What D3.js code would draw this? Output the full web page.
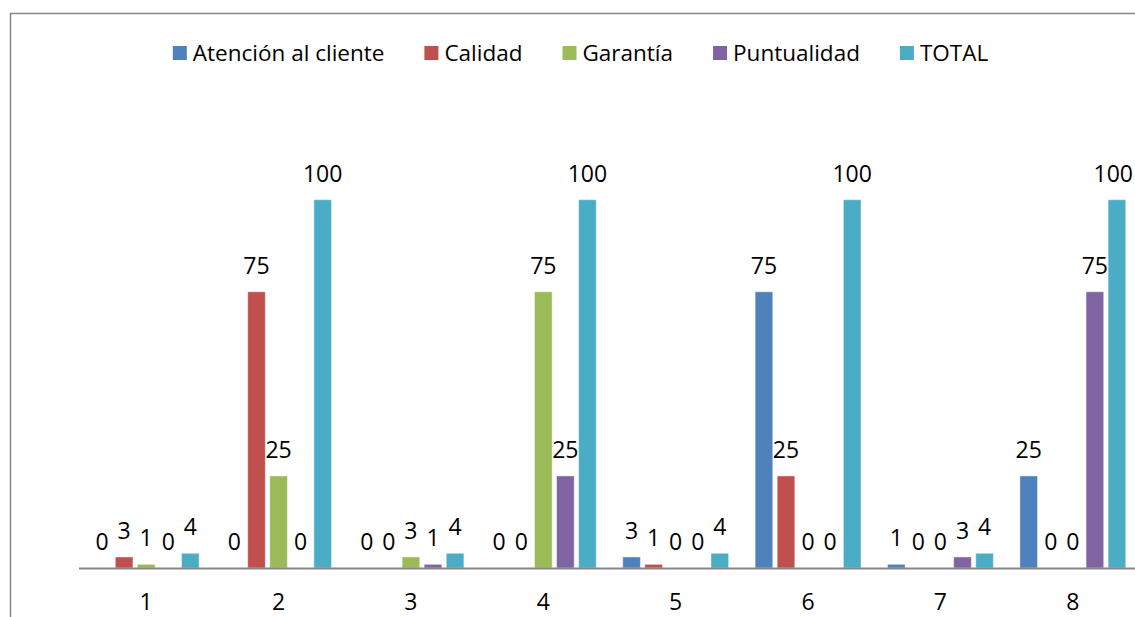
<!DOCTYPE html>
<html>
<head>
<meta charset="utf-8">
<script src="https://cdn.jsdelivr.net/npm/d3@7"></script>
<style>
  html, body { margin: 0; padding: 0; background: #ffffff; }
  svg { display: block; }
  text { font-family: "Open Sans", "Noto Sans", sans-serif; fill: #000; }
</style>
</head>
<body>
<svg id="chart" width="1135" height="617"></svg>
<script>
// Survey groups along the x axis
const categories = ["1", "2", "3", "4", "5", "6", "7", "8"];

// Series names (legend order = bar order inside each group)
const seriesNames = ["Atención al cliente", "Calidad", "Garantía", "Puntualidad", "TOTAL"];
const seriesColors = ["#4F81BD", "#C0504D", "#9BBB59", "#8064A2", "#4BACC6"];

// Values per series, one entry per category
const atencion    = [0, 0, 0, 0, 3, 75, 1, 25];
const calidad     = [3, 75, 0, 0, 1, 25, 0, 0];
const garantia    = [1, 25, 3, 75, 0, 0, 0, 0];
const puntualidad = [0, 0, 1, 25, 0, 0, 3, 75];
const total       = [4, 100, 4, 100, 4, 100, 4, 100];

const seriesValues = [atencion, calidad, garantia, puntualidad, total];

const svg = d3.select("#chart");
const W = 1135, H = 617;

const plot = { left: 80, right: 1139, top: 126, bottom: 568 };

// Outer chart frame (extends past the right and bottom edges of the page)
svg.append("rect")
  .attr("x", 10.5).attr("y", 13.5)
  .attr("width", W + 20).attr("height", H + 20)
  .attr("fill", "#ffffff")
  .attr("stroke", "#878787")
  .attr("stroke-width", 1.5);

const x0 = d3.scaleBand().domain(categories).range([plot.left, plot.right]).padding(0);
const groupW = x0.bandwidth() * (5 / 6);
const x1 = d3.scaleBand().domain(seriesNames)
  .range([(x0.bandwidth() - groupW) / 2, (x0.bandwidth() + groupW) / 2])
  .paddingInner(0.2).paddingOuter(0.1);
const y = d3.scaleLinear().domain([0, 120]).range([plot.bottom, plot.top]);

const rows = [];
categories.forEach((c, i) => {
  seriesNames.forEach((s, k) => {
    rows.push({ cat: c, series: s, k: k, value: seriesValues[k][i] });
  });
});

const g = svg.append("g");

// Bars
g.selectAll("rect.bar")
  .data(rows.filter(d => d.value > 0))
  .join("rect")
  .attr("class", "bar")
  .attr("x", d => x0(d.cat) + x1(d.series))
  .attr("y", d => y(d.value))
  .attr("width", x1.bandwidth())
  .attr("height", d => y(0) - y(d.value))
  .attr("fill", d => seriesColors[d.k])
  .attr("stroke", "rgba(255,255,255,0.45)")
  .attr("stroke-width", 1);

// Value labels above every bar (including zeros), kept inside the page
g.selectAll("text.val")
  .data(rows)
  .join("text")
  .attr("class", "val")
  .attr("x", d => x0(d.cat) + x1(d.series) + x1.bandwidth() / 2)
  .attr("y", d => y(d.value) - 18)
  .attr("text-anchor", "middle")
  .attr("font-size", 23)
  .text(d => d.value)
  .each(function () {
    const t = d3.select(this);
    const half = this.getComputedTextLength() / 2;
    const cx = +t.attr("x");
    if (cx + half > W - 2) t.attr("x", W - 2 - half);
  });

// Category axis line
svg.append("line")
  .attr("x1", plot.left - 1).attr("x2", W)
  .attr("y1", plot.bottom + 0.5).attr("y2", plot.bottom + 0.5)
  .attr("stroke", "#878787")
  .attr("stroke-width", 2);

// Category labels
svg.selectAll("text.cat")
  .data(categories)
  .join("text")
  .attr("class", "cat")
  .attr("x", d => x0(d) + x0.bandwidth() / 2)
  .attr("y", 610)
  .attr("text-anchor", "middle")
  .attr("font-size", 23)
  .text(d => d);

// Legend, centred across the top of the chart
const legend = svg.append("g");
const items = legend.selectAll("g.item")
  .data(seriesNames)
  .join("g")
  .attr("class", "item");
items.append("rect")
  .attr("width", 14).attr("height", 14)
  .attr("y", 46)
  .attr("fill", (d, i) => seriesColors[i]);
items.append("text")
  .attr("x", 20)
  .attr("y", 61)
  .attr("font-size", 22.5)
  .text(d => d);

let cursor = 0;
const gap = 40;
items.each(function () {
  const w = d3.select(this).select("text").node().getComputedTextLength();
  d3.select(this).attr("transform", `translate(${cursor},0)`);
  cursor += 20 + w + gap;
});
const legendW = cursor - gap;
legend.attr("transform", `translate(${(173 + 988) / 2 - legendW / 2},0)`);
</script>
</body>
</html>
